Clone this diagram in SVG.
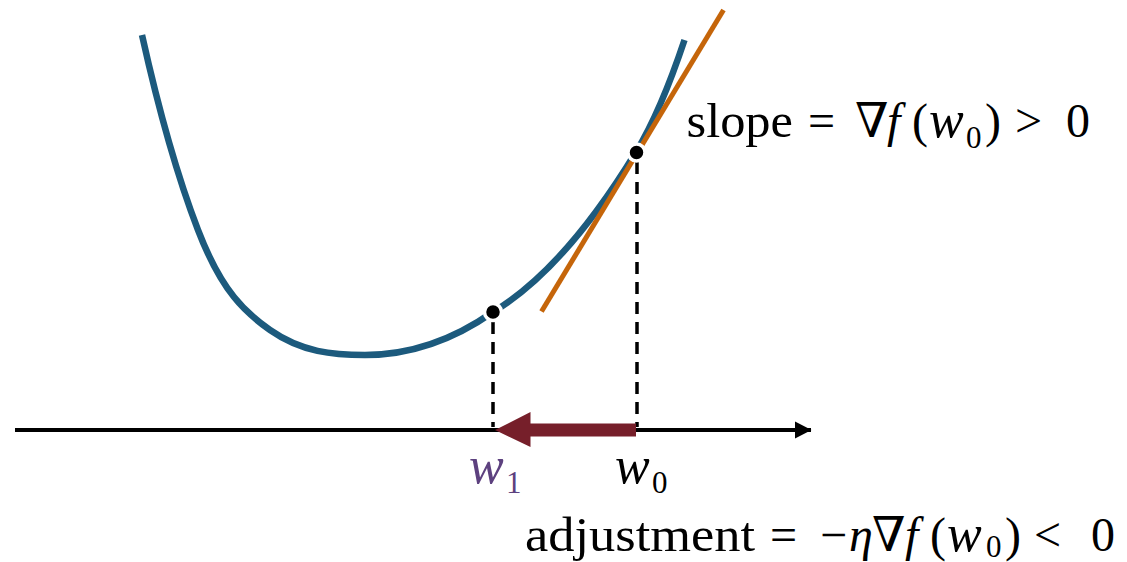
<svg xmlns="http://www.w3.org/2000/svg" width="1127" height="562" viewBox="0 0 1127 562">
<style>
.t{font-family:"Liberation Serif","Times New Roman","DejaVu Serif",serif;font-size:48px;fill:#000}
.i{font-style:italic}
.w{font-size:52px}
.s{font-size:31px}
.dash{stroke:#000;stroke-width:3.5;stroke-dasharray:12 8;fill:none}
</style>
<defs>
<marker id="ax" markerUnits="userSpaceOnUse" markerWidth="18" markerHeight="18" refX="16" refY="9" orient="auto">
<path d="M0,0.5 L16.5,9 L0,17.5 Z" fill="#000"/>
</marker>
</defs>
<rect width="1127" height="562" fill="#fff"/>
<g id="connectors">
<line id="axis" x1="15" y1="430" x2="811" y2="430" stroke="#000" stroke-width="4" marker-end="url(#ax)"/>
<line class="dash" x1="493" y1="322" x2="493" y2="427"/>
<line class="dash" x1="637" y1="162" x2="637" y2="427"/>
<path id="adjust-arrow" d="M636,423.5 L530.5,423.5 L530.5,412 L495,430 L530.5,447 L530.5,436.5 L636,436.5 Z" fill="#761f2a"/>
</g>
<g id="curve">
<path d="M142,35 C160.7,119 179.3,181.4 198,230 C222,292.4 246,313.2 270,330 C301.7,352.2 333.3,355 365,355 C407.7,355 450.3,341.9 493,312 C540.7,283.4 588.3,230.2 636,152 C652.3,125.2 668.7,87.3 684.5,40" fill="none" stroke="#1c5a7d" stroke-width="6.5"/>
</g>
<g id="tangent">
<line x1="541.5" y1="311.5" x2="723.5" y2="10" stroke="#c5650a" stroke-width="5"/>
</g>
<g id="point-w1">
<circle cx="493" cy="312" r="8.5" fill="#000" stroke="#fff" stroke-width="3.5"/>
</g>
<g id="point-w0">
<circle cx="636.5" cy="152.5" r="8.5" fill="#000" stroke="#fff" stroke-width="3.5"/>
</g>
<g id="label-w1">
<text class="t i w" x="469" y="483" style="fill:#5d417f">w</text>
<text class="t s" x="506" y="493" style="fill:#5d417f">1</text>
</g>
<g id="label-w0">
<text class="t i w" x="615" y="483">w</text>
<text class="t s" x="652" y="493">0</text>
</g>
<g id="label-slope">
<text class="t" x="686.5" y="137" textLength="106.5" lengthAdjust="spacingAndGlyphs">slope</text>
<text class="t" x="808" y="137">=</text>
<text class="t" x="855" y="137">∇</text>
<text class="t i" x="887" y="137">f</text>
<text class="t" x="912" y="137">(</text>
<text class="t i w" x="929" y="137">w</text>
<text class="t s" x="966" y="148">0</text>
<text class="t" x="985" y="137">)</text>
<text class="t" x="1015" y="137">&gt;</text>
<text class="t" x="1066" y="137">0</text>
</g>
<g id="label-adjustment">
<text class="t" x="525" y="551" textLength="230" lengthAdjust="spacingAndGlyphs">adjustment</text>
<text class="t" x="770" y="551">=</text>
<text class="t" x="820" y="551">−</text>
<text class="t i" x="849" y="551">η</text>
<text class="t" x="872" y="551">∇</text>
<text class="t i" x="905" y="551">f</text>
<text class="t" x="930" y="551">(</text>
<text class="t i w" x="947" y="551">w</text>
<text class="t s" x="986" y="557">0</text>
<text class="t" x="1005" y="551">)</text>
<text class="t" x="1034" y="551">&lt;</text>
<text class="t" x="1091" y="551">0</text>
</g>
</svg>
